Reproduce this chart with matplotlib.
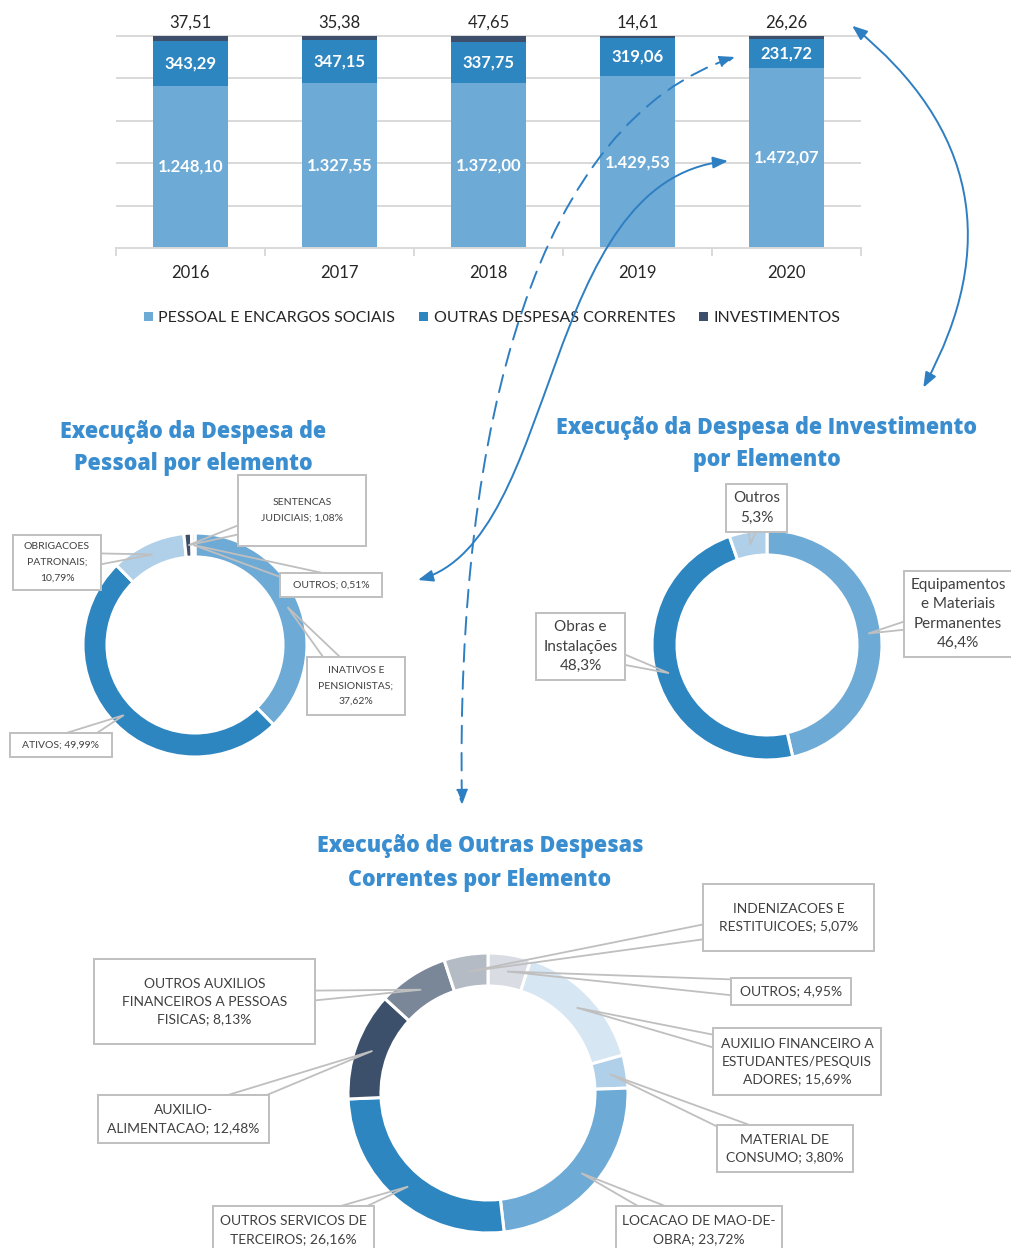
import matplotlib
matplotlib.use('Agg')
import matplotlib.pyplot as plt
from matplotlib.patches import FancyArrowPatch, Rectangle
from matplotlib.path import Path
import numpy as np

W, H = 1011, 1248

# dados - grafico de barras (R$ milhoes)
years = ['2016', '2017', '2018', '2019', '2020']
pessoal = [1248.10, 1327.55, 1372.00, 1429.53, 1472.07]
outras = [343.29, 347.15, 337.75, 319.06, 231.72]
invest = [37.51, 35.38, 47.65, 14.61, 26.26]
bar_series = ['PESSOAL E ENCARGOS SOCIAIS', 'OUTRAS DESPESAS CORRENTES', 'INVESTIMENTOS']

# donut pessoal
pes_names = ['INATIVOS E\nPENSIONISTAS;\n', 'ATIVOS; ', 'OBRIGACOES\nPATRONAIS;\n',
             'SENTENCAS\nJUDICIAIS; ', 'OUTROS; ']
pes_values = [37.62, 49.99, 10.79, 1.08, 0.51]

# donut investimento
inv_names = ['Equipamentos\ne Materiais\nPermanentes\n', 'Obras e\nInstalações\n', 'Outros\n']
inv_values = [46.4, 48.3, 5.3]

# donut outras despesas correntes
odc_names = ['OUTROS; ', 'AUXILIO FINANCEIRO A\nESTUDANTES/PESQUIS\nADORES; ',
             'MATERIAL DE\nCONSUMO; ', 'LOCACAO DE MAO-DE-\nOBRA; ',
             'OUTROS SERVICOS DE\nTERCEIROS; ', 'AUXILIO-\nALIMENTACAO; ',
             'OUTROS AUXILIOS\nFINANCEIROS A PESSOAS\nFISICAS; ', 'INDENIZACOES E\nRESTITUICOES; ']
odc_values = [4.95, 15.69, 3.80, 23.72, 26.16, 12.48, 8.13, 5.07]

C_LIGHT = '#6EAAD6'
C_MID = '#2E86C1'
C_DARK = '#3D4F6B'
C_PALE = '#B0D0EA'
C_TITLE = '#3A8ED0'
C_ARROW = '#2E7FC2'
C_GRID = '#D9D9D9'
C_BOX = '#BFBFBF'
C_TXT = '#404040'

plt.rcParams['font.family'] = ['Lato', 'DejaVu Sans']


def br(v, nd=2):
    s = f"{v:,.{nd}f}"
    return s.replace(',', 'X').replace('.', ',').replace('X', '.')


fig = plt.figure(figsize=(W / 100, H / 100), dpi=100)

# ---- barras 100% empilhadas
ax = fig.add_axes([116 / W, 1 - 248 / H, 745 / W, 213 / H])
tot = np.array(pessoal) + np.array(outras) + np.array(invest)
p1 = np.array(pessoal) / tot
p2 = np.array(outras) / tot
p3 = np.array(invest) / tot
x = np.arange(len(years))
bw = 0.51
ax.bar(x, p1, bw, color=C_LIGHT, label=bar_series[0], zorder=2)
ax.bar(x, p2, bw, bottom=p1, color=C_MID, label=bar_series[1], zorder=2)
ax.bar(x, p3, bw, bottom=p1 + p2, color=C_DARK, label=bar_series[2], zorder=2)
for i in x:
    ax.text(i, p1[i] / 2, br(pessoal[i]), ha='center', va='center', color='white',
            fontsize=12, fontweight='bold', zorder=3)
    ax.text(i, p1[i] + p2[i] / 2, br(outras[i]), ha='center', va='center', color='white',
            fontsize=12, fontweight='bold', zorder=3)
    ax.text(i, 1.025, br(invest[i]), ha='center', va='bottom', color='#262626',
            fontsize=12, zorder=3)
ax.set_xlim(-0.5, 4.5)
ax.set_ylim(0, 1.005)
ax.set_yticks([0.2, 0.4, 0.6, 0.8, 1.0])
ax.yaxis.grid(True, color=C_GRID, lw=1.4)
ax.set_axisbelow(True)
ax.tick_params(axis='y', length=0, labelleft=False)
ax.set_xticks(x, years)
ax.tick_params(axis='x', length=0, pad=12, labelsize=12, labelcolor='#262626')
ax.set_xticks(np.arange(-0.5, 5, 1), minor=True)
ax.tick_params(axis='x', which='minor', length=6, color=C_GRID, width=1.4)
for s in ['top', 'right', 'left']:
    ax.spines[s].set_visible(False)
ax.spines['bottom'].set_color(C_GRID)
ax.spines['bottom'].set_linewidth(1.4)
ax.legend(loc='center', bbox_to_anchor=(0.505, -0.33), ncol=3, frameon=False, fontsize=11.5,
          handlelength=0.55, handleheight=0.55, handletextpad=0.35, columnspacing=1.5,
          labelcolor='#262626')

# ---- camada de sobreposicao em pixels (y para cima)
ov = fig.add_axes([0, 0, 1, 1])
ov.set_zorder(5)
ov.patch.set_alpha(0)


def donut(vals, colors, cen, r, w, names, nd, boxes, fs, ls, rmid):
    cx, cy = cen[0], H - cen[1]
    ov.pie(vals, colors=colors, radius=r, center=(cx, cy), startangle=90, counterclock=False,
           wedgeprops=dict(width=w, edgecolor='white', linewidth=2.2))
    frac = np.array(vals) / np.sum(vals)
    mids = (np.cumsum(frac) - frac / 2) * 2 * np.pi
    for k, (name, v, box) in enumerate(zip(names, vals, boxes)):
        tx = cx + rmid * np.sin(mids[k])
        ty = cy + rmid * np.cos(mids[k])
        x0, y0, x1, y1 = box
        bx, by = (x0 + x1) / 2, H - (y0 + y1) / 2
        d = np.array([tx - bx, ty - by])
        n = np.array([-d[1], d[0]]) / np.hypot(*d) * 10
        ov.plot([bx + n[0], tx, bx - n[0]], [by + n[1], ty, by - n[1]],
                color=C_BOX, lw=1.3, zorder=6, solid_joinstyle='miter')
        ov.add_patch(Rectangle((x0, H - y1), x1 - x0, y1 - y0, fc='white', ec=C_BOX,
                               lw=1.4, zorder=7))
        ov.text(bx, by, name + br(v, nd) + '%', ha='center', va='center', fontsize=fs,
                linespacing=ls, color=C_TXT, zorder=8)


donut(pes_values, [C_LIGHT, C_MID, C_PALE, C_DARK, '#CFDFEE'], (195, 645), 112, 24,
      pes_names, 2,
      [(307, 657, 405, 715), (10, 733, 112, 757), (13, 535, 101, 590),
       (238, 475, 366, 546), (280, 573, 382, 597)], 7.5, 1.95, 100)

donut(inv_values, [C_LIGHT, C_MID, C_PALE], (767, 645), 115, 25, inv_names, 1,
      [(904, 571, 1012, 657), (536, 613, 625, 680), (726, 484, 787, 532)], 11, 1.5, 102)

donut(odc_values, ['#D9DCE3', '#D6E6F2', C_PALE, C_LIGHT, C_MID, '#3D506B', '#7A8799', '#B4BBC5'],
      (488, 1093), 140, 33, odc_names, 2,
      [(731, 978, 851, 1005), (713, 1028, 881, 1095), (717, 1125, 853, 1172),
       (616, 1206, 782, 1254), (213, 1206, 374, 1254), (98, 1095, 269, 1143),
       (94, 959, 315, 1044), (703, 884, 874, 951)], 10, 1.55, 123)

# titulos
tkw = dict(ha='center', va='center', fontsize=15.5, fontweight=800, color=C_TITLE,
           linespacing=1.5, zorder=8, family=['Open Sans', 'DejaVu Sans'])
ov.text(193, H - 448, 'Execução da Despesa de\nPessoal por elemento', **tkw)
ov.text(767, H - 444, 'Execução da Despesa de Investimento\npor Elemento', **tkw)
ov.text(480, H - 863, 'Execução de Outras Despesas\nCorrentes por Elemento', **tkw)

# setas
akw = dict(arrowstyle='<|-|>,head_length=0.9,head_width=0.35', mutation_scale=10,
           color=C_ARROW, lw=1.4, zorder=10)
ov.add_patch(FancyArrowPatch((850, H - 24), (922, H - 390),
                             connectionstyle='arc3,rad=-0.42', **akw))
pts = [(728, 161), (540, 180), (560, 540), (418, 580)]
ov.add_patch(FancyArrowPatch(path=Path([(a, H - b) for a, b in pts],
                                       [Path.MOVETO, Path.CURVE4, Path.CURVE4, Path.CURVE4]),
                             **akw))
pts = [(735, 57), (540, 120), (455, 420), (462, 805)]
ov.add_patch(FancyArrowPatch(path=Path([(a, H - b) for a, b in pts],
                                       [Path.MOVETO, Path.CURVE4, Path.CURVE4, Path.CURVE4]),
                             linestyle=(0, (9, 5)), **akw))

ov.set_xlim(0, W)
ov.set_ylim(0, H)
ov.set_aspect('auto')
ov.axis('off')

fig.savefig('out.png', dpi=100)
